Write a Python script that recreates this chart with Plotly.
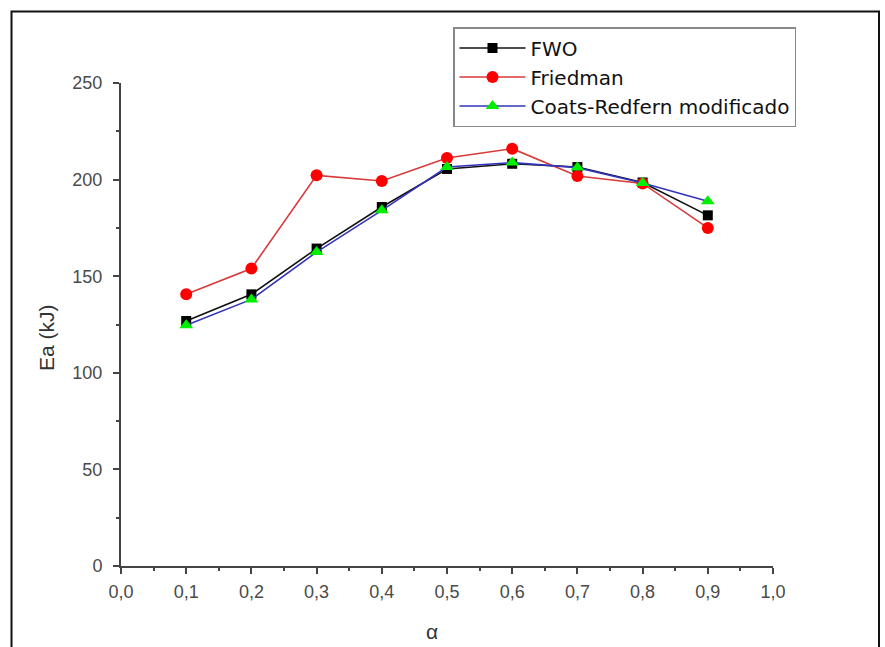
import plotly.graph_objects as go

# Conversion degree
alpha = [0.1, 0.2, 0.3, 0.4, 0.5, 0.6, 0.7, 0.8, 0.9]

# Activation energy (kJ) per method
ea_fwo = [126.8, 140.6, 164.3, 185.8, 205.5, 208.2, 206.5, 198.5, 181.5]
ea_friedman = [140.6, 154.0, 202.2, 199.3, 211.2, 216.0, 201.9, 198.0, 175.0]
ea_coats = [124.6, 138.0, 162.5, 184.1, 206.5, 208.8, 206.2, 198.2, 188.8]

x_ticks = [0.0, 0.1, 0.2, 0.3, 0.4, 0.5, 0.6, 0.7, 0.8, 0.9, 1.0]
y_ticks = [0, 50, 100, 150, 200, 250]

W, H = 885, 647
L, R, T, B = 121, 112, 83, 81
pw, ph = W - L - R, H - T - B


def px_x(px):
    return (px - L) / pw


def px_y(py):
    return (H - B - py) / ph


fig = go.Figure()
fig.add_trace(go.Scatter(
    x=alpha, y=ea_fwo, name="FWO", mode="lines+markers",
    line=dict(color="#111111", width=1.6),
    marker=dict(symbol="square", size=10, color="#000000"),
))
fig.add_trace(go.Scatter(
    x=alpha, y=ea_friedman, name="Friedman", mode="lines+markers",
    line=dict(color="#d83a3a", width=1.6),
    marker=dict(symbol="circle", size=12, color="#ff0000"),
))
fig.add_trace(go.Scatter(
    x=alpha, y=ea_coats, name="Coats-Redfern modificado", mode="lines+markers",
    line=dict(color="#3333bb", width=1.6),
    marker=dict(symbol="triangle-up", size=12, color="#00ee00"),
))

axis_common = dict(
    showgrid=False, zeroline=False, showline=True, linecolor="#444444",
    linewidth=2, ticks="outside", ticklen=6, tickwidth=2, tickcolor="#444444",
    tickfont=dict(family="Liberation Sans, Arial", size=18, color="#4a4a4a"),
)

fig.update_xaxes(
    range=[0, 1], tickvals=x_ticks, tickformat=".1f", ticklabelstandoff=2,
    minor=dict(ticks="outside", ticklen=3, tickwidth=2, tickcolor="#444444",
               dtick=0.05, tick0=0),
    **axis_common,
)
fig.update_yaxes(
    range=[0, 250], tickvals=y_ticks, ticklabelstandoff=7,
    minor=dict(ticks="outside", ticklen=3, tickwidth=2, tickcolor="#444444",
               dtick=25, tick0=0),
    **axis_common,
)

fig.add_annotation(
    text="α", xref="paper", yref="paper", x=px_x(432), y=px_y(631),
    xanchor="center", yanchor="middle", showarrow=False,
    font=dict(family="Liberation Sans, Arial", size=21, color="#333333"),
)
fig.add_annotation(
    text="Ea (kJ)", xref="paper", yref="paper", x=px_x(46), y=px_y(338),
    xanchor="center", yanchor="middle", textangle=-90, showarrow=False,
    font=dict(family="Liberation Sans, Arial", size=21, color="#333333"),
)

# Frame around the whole figure
fig.add_shape(
    type="rect", xref="paper", yref="paper",
    x0=px_x(11.5), x1=px_x(879), y0=px_y(700), y1=px_y(11.5),
    line=dict(color="#111111", width=2), layer="below",
)

fig.update_layout(
    width=W, height=H, margin=dict(l=L, r=R, t=T, b=B),
    paper_bgcolor="white", plot_bgcolor="white",
    separators=",.",
    showlegend=True,
    legend=dict(
        x=px_x(453), y=px_y(27), xanchor="left", yanchor="top",
        bgcolor="white", bordercolor="#888888", borderwidth=1.5,
        font=dict(family="DejaVu Sans", size=20, color="#111111"),
        itemwidth=66, tracegroupgap=0,
    ),
)

fig.write_html("out.html")
